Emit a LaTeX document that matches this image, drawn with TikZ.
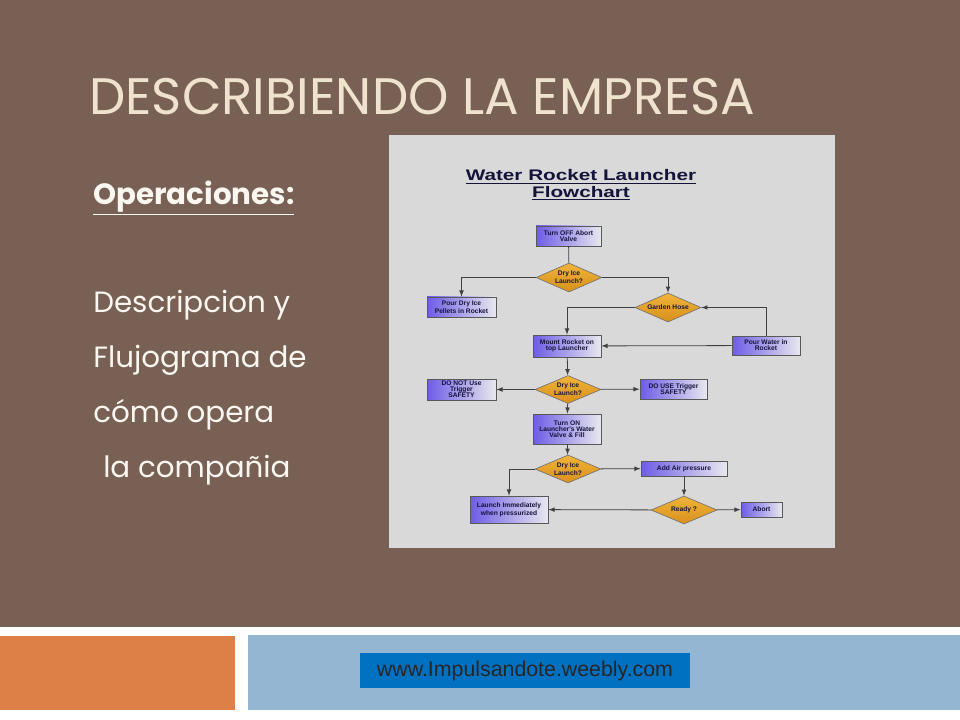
\documentclass[tikz,border=0pt]{standalone}
\usepackage{fontspec}
\usepackage{xcolor}
\usepackage{tikz}
\usetikzlibrary{shapes.geometric}

\newfontfamily\slidefont{Poppins}
\newfontfamily\chartfont{Liberation Sans}

\definecolor{slidebrown}{HTML}{786055}
\definecolor{titlecream}{HTML}{EFE3CE}
\definecolor{bodywhite}{HTML}{FAF6F0}
\definecolor{barorange}{HTML}{DD8047}
\definecolor{barblue}{HTML}{94B6D2}
\definecolor{urlblue}{HTML}{0070C0}
\definecolor{panelgray}{HTML}{D9D9D9}
\definecolor{boxviolet}{HTML}{6E5CE6}
\definecolor{boxpale}{HTML}{E8E8EE}
\definecolor{diamondtop}{HTML}{F0B43A}
\definecolor{diamondbot}{HTML}{D8901C}
\definecolor{chartink}{HTML}{14143A}

\begin{document}
\begin{tikzpicture}[x=0.75pt, y=-0.75pt, >=latex,
    stepbox/.style={shape=rectangle, draw=black!65, line width=0.6pt, left color=boxviolet, right color=boxpale,
      inner sep=0pt, align=center, text=chartink, font=\chartfont\bfseries\fontsize{5}{4.6}\selectfont},
    decide/.style={shape=diamond, shape aspect=2.36, draw=black!55, line width=0.5pt, top color=diamondtop, bottom color=diamondbot,
      inner sep=0pt, minimum width=49.5pt, minimum height=21pt, align=center, text=chartink,
      font=\chartfont\bfseries\fontsize{5}{4.6}\selectfont},
    flow/.style={draw=black!75, line width=0.6pt}]
    \useasboundingbox (0,0) rectangle (960,720);

    % slide background and bars
    \fill[white] (0,0) rectangle (960,720);
    \fill[slidebrown] (0,0) rectangle (960,627);
    \fill[barorange] (0,636) rectangle (235,710);
    \fill[barblue] (248,635) rectangle (960,710);
    \fill[urlblue] (360,653) rectangle (690,688);
    \node[font=\chartfont\fontsize{16}{17}\selectfont, text=black!85] (url) at (525,670.5) {www.Impulsandote.weebly.com};

    % slide texts
    \node[anchor=base west, inner sep=0pt, text=titlecream, font=\slidefont\fontsize{38.5}{42}\selectfont] (title) at (89,115) {DESCRIBIENDO LA EMPRESA};
    \node[anchor=base west, inner sep=0pt, text=bodywhite, font=\slidefont\bfseries\fontsize{22}{25}\selectfont] (ops) at (93,205) {\underline{Operaciones:}};
    \node[anchor=base west, inner sep=0pt, text=bodywhite, font=\slidefont\fontsize{22}{25}\selectfont] (body1) at (93,312) {Descripcion y};
    \node[anchor=base west, inner sep=0pt, text=bodywhite, font=\slidefont\fontsize{22}{25}\selectfont] (body2) at (93,367) {Flujograma de};
    \node[anchor=base west, inner sep=0pt, text=bodywhite, font=\slidefont\fontsize{22}{25}\selectfont] (body3) at (93,422) {cómo opera};
    \node[anchor=base west, inner sep=0pt, text=bodywhite, font=\slidefont\fontsize{22}{25}\selectfont] (body4) at (103,477) {la compañia};

    % flowchart panel
    \fill[panelgray] (389,135) rectangle (835,548);
    \node[align=center, xscale=1.35, text=chartink, font=\chartfont\bfseries\fontsize{11.5}{12.5}\selectfont] (charttitle) at (581,185)
      {\underline{Water Rocket Launcher}\\\underline{Flowchart}};

    \node[stepbox, minimum width=48.75pt, minimum height=15pt] (offvalve) at (568.5,236) {Turn OFF Abort\\Valve};
    \node[decide, minimum height=21.75pt] (ice1) at (569,277.5) {Dry Ice\\Launch?};
    \node[stepbox, minimum width=51.75pt, minimum height=15pt] (pellets) at (461.5,307) {Pour Dry Ice\\Pellets in Rocket};
    \node[decide, minimum height=21.75pt] (hose) at (668,307.5) {Garden Hose};
    \node[stepbox, minimum width=51pt, minimum height=16.5pt] (mount) at (567,346) {Mount Rocket on\\top Launcher};
    \node[stepbox, minimum width=51pt, minimum height=14.25pt] (water) at (766,345.5) {Pour Water in\\Rocket};
    \node[decide] (ice2) at (568,389.5) {Dry Ice\\Launch?};
    \node[stepbox, minimum width=51.75pt, minimum height=15.75pt] (nosafety) at (461.5,389.5) {DO NOT Use\\Trigger\\SAFETY};
    \node[stepbox, minimum width=50.25pt, minimum height=15pt] (safety) at (673.5,389) {DO USE Trigger\\SAFETY};
    \node[stepbox, minimum width=51pt, minimum height=22.5pt] (valveon) at (567,429) {Turn ON\\Launcher's Water\\Valve \& Fill};
    \node[decide] (ice3) at (568,469) {Dry Ice\\Launch?};
    \node[stepbox, minimum width=64.5pt, minimum height=11.25pt] (air) at (684,468.5) {Add Air pressure};
    \node[stepbox, minimum width=58.5pt, minimum height=20.25pt] (launch) at (509,509.5) {Launch Immediately\\when pressurized};
    \node[decide] (ready) at (684,510) {Ready ?};
    \node[stepbox, minimum width=30.75pt, minimum height=11.25pt] (abort) at (761.5,509.5) {Abort};

    \draw[flow] (offvalve) -- (ice1);
    \draw[flow,->] (ice1.west) -| (pellets.north);
    \draw[flow,->] (ice1.east) -| (hose.north);
    \draw[flow,->] (hose.west) -| (mount.north);
    \draw[flow,->] (water.north) |- (hose.east);
    \draw[flow,->] (water) -- (mount);
    \draw[flow,->] (mount) -- (ice2);
    \draw[flow,->] (ice2) -- (nosafety);
    \draw[flow,->] (ice2) -- (safety);
    \draw[flow,->] (ice2) -- (valveon);
    \draw[flow,->] (valveon) -- (ice3);
    \draw[flow,->] (ice3) -- (air);
    \draw[flow,->] (ice3.west) -| (launch.north);
    \draw[flow,->] (air) -- (ready);
    \draw[flow,->] (ready) -- (launch);
    \draw[flow,->] (ready) -- (abort);
  \end{tikzpicture}
\end{document}
